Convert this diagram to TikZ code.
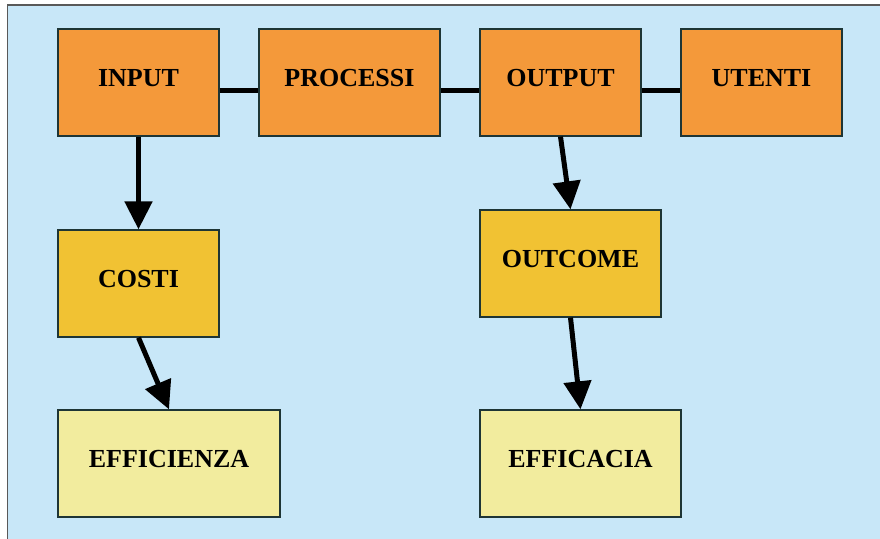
\documentclass[tikz,border=0pt]{standalone}
\usepackage{fontspec}
\setmainfont{Liberation Serif}
\usetikzlibrary{arrows.meta}
\definecolor{tbg}{HTML}{C8E7F8}
\definecolor{torange}{HTML}{F4993A}
\definecolor{tgold}{HTML}{F1C233}
\definecolor{tpale}{HTML}{F2EC9E}
\definecolor{tedge}{HTML}{1E3535}
\begin{document}
\begin{tikzpicture}[x=1pt, y=-1pt, font=\fontsize{26}{30}\selectfont\bfseries,
  box/.style={draw=tedge, line width=1.3pt, minimum height=107pt, text height=17pt, text depth=9pt, inner sep=0pt},
  link/.style={line width=5pt},
  arr/.style={line width=5pt, -{Triangle[length=28pt, width=27pt]}}]
\useasboundingbox (0,0) rectangle (880,538);
\draw[draw=gray!70!black, line width=1.2pt, fill=tbg] (7.5,5) rectangle (884,542);
% top row
\node[box, fill=torange, minimum width=161pt] (input) at (138.5,82.5) {INPUT};
\node[box, fill=torange, minimum width=181pt] (processi) at (349.5,82.5) {PROCESSI};
\node[box, fill=torange, minimum width=161pt] (output) at (560.5,82.5) {OUTPUT};
\node[box, fill=torange, minimum width=161pt] (utenti) at (761.5,82.5) {UTENTI};
% lower boxes
\node[box, fill=tgold, minimum width=161pt] (costi) at (138.5,283.5) {COSTI};
\node[box, fill=tgold, minimum width=181pt] (outcome) at (570.5,263.5) {OUTCOME};
\node[box, fill=tpale, minimum width=222pt] (efficienza) at (169,463.5) {EFFICIENZA};
\node[box, fill=tpale, minimum width=201pt] (efficacia) at (580.5,463.5) {EFFICACIA};
% connectors
\draw[link] ([yshift=-7.5pt]input.east) -- ([yshift=-7.5pt]processi.west);
\draw[link] ([yshift=-7.5pt]processi.east) -- ([yshift=-7.5pt]output.west);
\draw[link] ([yshift=-7.5pt]output.east) -- ([yshift=-7.5pt]utenti.west);
\draw[arr] (input.south) -- (costi.north);
\draw[arr] (costi.south) -- (efficienza.north);
\draw[arr] (output.south) -- (outcome.north);
\draw[arr] (outcome.south) -- (efficacia.north);
\end{tikzpicture}
\end{document}
